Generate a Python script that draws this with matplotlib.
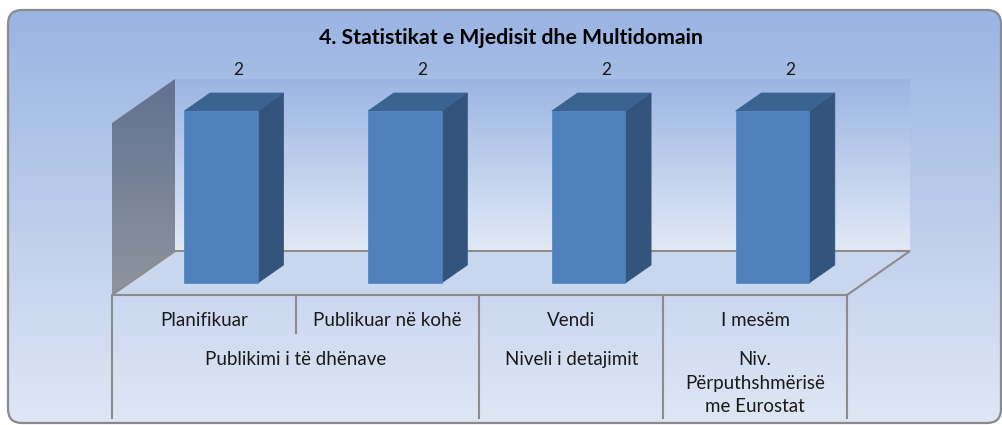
import numpy as np
import matplotlib
matplotlib.use("Agg")
import matplotlib.pyplot as plt
from matplotlib.patches import Polygon, FancyBboxPatch
from matplotlib.colors import LinearSegmentedColormap

# ---------------- data ----------------
title = "4. Statistikat e Mjedisit dhe Multidomain"
categories = ["Planifikuar", "Publikuar në kohë", "Vendi", "I mesëm"]
groups = ["Publikimi i të dhënave", "Niveli i detajimit", "Niv.\nPërputhshmërisë\nme Eurostat"]
group_spans = [(0, 2), (2, 3), (3, 4)]
values = [2, 2, 2, 2]
y_max = 2.0

# ---------------- style ----------------
W, H = 1002, 425
FONT = ["Lato", "DejaVu Sans"]
plt.rcParams["font.family"] = FONT
text_col = "#1a1a1a"
line_col = "#8c8c8c"
bar_front = "#4f81bd"
bar_side = "#32547d"
bar_top = "#3b6391"
label_fs = 13.5

fig = plt.figure(figsize=(W / 100, H / 100), dpi=100)

# background canvas (pixel units)
bg = fig.add_axes([0, 0, 1, 1], zorder=0)
bg.axis("off")
frame = FancyBboxPatch((8, 2), 993, 413, boxstyle="round,pad=0,rounding_size=14",
                       fc="none", ec="#8a8a8a", lw=1.6, zorder=3)
bg.add_patch(frame)
cmap_bg = LinearSegmentedColormap.from_list("bg", ["#9ab4e2", "#dfe7f5"])
grad = np.linspace(0, 1, 256)[:, None]
clip = FancyBboxPatch((8, 2), 993, 413, boxstyle="round,pad=0,rounding_size=14",
                      fc="none", ec="none", transform=bg.transData)
bg.imshow(grad, cmap=cmap_bg, extent=(8, 1001, 2, 415), origin="upper",
          aspect="auto", zorder=1, clip_path=clip)
bg.set_xlim(0, W)
bg.set_ylim(0, H)

fig.text(511 / W, 1 - 38 / H, title, ha="center", va="center", fontsize=15.3,
         fontweight="bold", color="#000000")

# main plot axes: x in category units, y in value units at the front plane
ax = fig.add_axes([112 / W, (H - 295) / H, 735 / W, 172 / H], zorder=1)
ax.set_xlim(0, len(categories))
ax.set_ylim(0, y_max)
ax.set_autoscale_on(False)
ax.axis("off")
ax.patch.set_alpha(0)

DX = 63 / 183.75   # depth offset in category units (full depth)
DY = 44 / 86.0     # depth offset in value units (full depth)


def P(x, y, z):
    return (x + z * DX, y + z * DY)


def grad_poly(pts, c_top, c_bot, zorder):
    poly = Polygon(pts, closed=True, fc="none", ec="none", transform=ax.transData)
    xs = [p[0] for p in pts]
    ys = [p[1] for p in pts]
    cm = LinearSegmentedColormap.from_list("g", [c_top, c_bot])
    im = ax.imshow(grad, cmap=cm, extent=(min(xs), max(xs), min(ys), max(ys)),
                   origin="upper", aspect="auto", zorder=zorder)
    im.set_clip_path(poly)
    im.set_clip_box(fig.bbox)


n = len(categories)
# back wall
back = [P(0, 0, 1), P(n, 0, 1), P(n, y_max, 1), P(0, y_max, 1)]
grad_poly(back, "#9bb5e3", "#e1e9f6", 1)
# side wall
side = [P(0, 0, 0), P(0, 0, 1), P(0, y_max, 1), P(0, y_max, 0)]
grad_poly(side, "#617190", "#8f959f", 2)
# floor
floor = [P(0, 0, 0), P(n, 0, 0), P(n, 0, 1), P(0, 0, 1)]
ax.add_patch(Polygon(floor, closed=True, fc="#c9d7ee", ec=line_col, lw=1.5,
                     zorder=2, clip_on=False))
ax.set_xlim(0, n)
ax.set_ylim(0, y_max)

# bars
bw = 0.40
z0, z1 = 0.273, 0.682
for i, v in enumerate(values):
    xc = i + 0.5
    x0, x1 = xc - bw / 2, xc + bw / 2
    front = [P(x0, 0, z0), P(x1, 0, z0), P(x1, v, z0), P(x0, v, z0)]
    sidef = [P(x1, 0, z0), P(x1, 0, z1), P(x1, v, z1), P(x1, v, z0)]
    top = [P(x0, v, z0), P(x1, v, z0), P(x1, v, z1), P(x0, v, z1)]
    for pts, c in ((sidef, bar_side), (top, bar_top), (front, bar_front)):
        ax.add_patch(Polygon(pts, closed=True, fc=c, ec=c, lw=0.5, zorder=5,
                             clip_on=False))
    lx, ly = P(xc, v, 0.55)
    ax.text(lx, ly + 0.33, f"{v:g}", ha="center", va="center", fontsize=12.5,
            color=text_col, zorder=6, clip_on=False)

# category table
row1 = -0.30
row2 = -0.735
bottom = -1.43
starts = [s for s, e in group_spans]
for k in range(n + 1):
    yb = bottom if (k in starts or k == n) else -0.44
    ax.plot([k, k], [0, yb], color=line_col, lw=1.5, clip_on=False, zorder=3)
for i, c in enumerate(categories):
    ax.text(i + 0.5, row1, c, ha="center", va="center", fontsize=label_fs,
            color=text_col, clip_on=False)
for g, (s, e) in zip(groups, group_spans):
    ax.text((s + e) / 2, row2 + 0.085, g, ha="center", va="top", fontsize=label_fs,
            color=text_col, linespacing=1.48, clip_on=False)

fig.savefig("out.png", dpi=100)
